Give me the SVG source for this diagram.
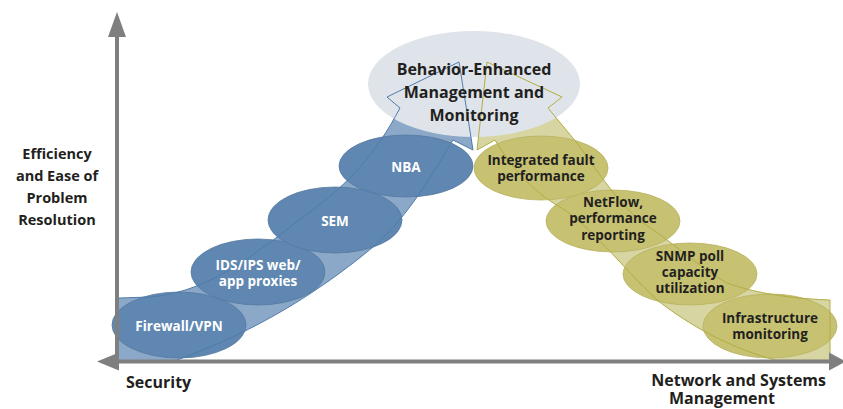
<svg xmlns="http://www.w3.org/2000/svg" width="843" height="409" viewBox="0 0 843 409">
  <style>
    text { font-family: "Open Sans", Lato, "Liberation Sans", sans-serif; font-weight: 700; text-anchor: middle; }
    .dark { fill: #231f20; }
    .light { fill: #ffffff; font-size: 13.5px; }
    .olv { fill: #231f20; font-size: 13.5px; }
    .axislbl { fill: #231f20; font-size: 16px; }
    .ylbl { fill: #231f20; font-size: 14.5px; }
    .blueNode { fill: #5f87b1; stroke: #56799f; stroke-width: 0.8; }
    .oliveNode { fill: #c6c272; stroke: #b7b35f; stroke-width: 0.8; }
    .axis { stroke: #7f7f7f; stroke-width: 4; fill: none; }
    .arrow { fill: #7f7f7f; }
  </style>

  <!-- band fills -->
  <g id="bands">
    <path id="security-band" fill="#8ca8c8"
      d="M119,298 L150,297 C215,292 265,245 310,212 C350,182 375,155 400,108 L387,97 L459,62 L473,150 L453,140 C430,178 405,222 367,252 C320,290 260,330 177,360 L119,360 Z"/>
    <path id="network-band" fill="#d7d5a2"
      d="M548,108 L562,97 L487,62 L477,150 L495,140 C510,165 530,190 560,207 C590,225 620,265 657,300 C680,318 720,345 775,360 L830,360 L830,300 C800,299 760,295 727,283 C700,268 670,240 643,223 C620,205 600,175 577,143 Z"/>
  </g>

  <!-- top node -->
  <g id="node-behavior">
    <ellipse cx="474" cy="84" rx="106" ry="53" fill="#dfe4ea"/>
  </g>

  <!-- security nodes -->
  <g id="node-firewall"><ellipse class="blueNode" cx="179" cy="325" rx="67" ry="33"/></g>
  <g id="node-ids"><ellipse class="blueNode" cx="258" cy="272" rx="67" ry="33"/></g>
  <g id="node-sem"><ellipse class="blueNode" cx="335" cy="220" rx="67" ry="33"/></g>
  <g id="node-nba"><ellipse class="blueNode" cx="406" cy="166" rx="67" ry="31"/></g>

  <!-- network nodes -->
  <g id="node-infra"><ellipse class="oliveNode" cx="770" cy="326" rx="67" ry="32"/></g>
  <g id="node-snmp"><ellipse class="oliveNode" cx="690" cy="274" rx="67" ry="31"/></g>
  <g id="node-netflow"><ellipse class="oliveNode" cx="613" cy="221" rx="67" ry="31"/></g>
  <g id="node-fault"><ellipse class="oliveNode" cx="541" cy="168" rx="67" ry="32"/></g>

  <!-- band outlines -->
  <g id="connectors" fill="none" stroke-width="1" stroke-linejoin="miter">
    <path stroke="#4f7cab"
      d="M119,298 L150,297 C215,292 265,245 310,212 C350,182 375,155 400,108 L387,97 L459,62 L473,150 L453,140 C430,178 405,222 367,252 C320,290 260,330 177,360"/>
    <path stroke="#b2ad45"
      d="M548,108 L562,97 L487,62 L477,150 L495,140 C510,165 530,190 560,207 C590,225 620,265 657,300 C680,318 720,345 775,360 M830,360 L830,300 C800,299 760,295 727,283 C700,268 670,240 643,223 C620,205 600,175 577,143 L548,108"/>
  </g>

  <!-- axes -->
  <g id="axes">
    <line class="axis" x1="117" y1="34" x2="117" y2="363"/>
    <polygon class="arrow" points="117,12 108,37 126,37"/>
    <line class="axis" x1="115" y1="361.5" x2="832" y2="361.5"/>
    <polygon class="arrow" points="97,361.5 119,352.5 119,370.5"/>
    <polygon class="arrow" points="846,361.5 829,352.5 829,370.5"/>
  </g>

  <!-- labels -->
  <g id="labels">
    <text class="dark" x="474" y="75" font-size="16">Behavior-Enhanced</text>
    <text class="dark" x="474" y="98" font-size="16">Management and</text>
    <text class="dark" x="474" y="121" font-size="16">Monitoring</text>

    <text class="light" x="179" y="331">Firewall/VPN</text>
    <text class="light" x="258" y="270">IDS/IPS web/</text>
    <text class="light" x="258" y="286">app proxies</text>
    <text class="light" x="335" y="226">SEM</text>
    <text class="light" x="406" y="172">NBA</text>

    <text class="olv" x="541" y="165">Integrated fault</text>
    <text class="olv" x="541" y="181">performance</text>
    <text class="olv" x="613" y="207">NetFlow,</text>
    <text class="olv" x="613" y="223">performance</text>
    <text class="olv" x="613" y="240">reporting</text>
    <text class="olv" x="690" y="261">SNMP poll</text>
    <text class="olv" x="690" y="277">capacity</text>
    <text class="olv" x="690" y="293">utilization</text>
    <text class="olv" x="770" y="323">Infrastructure</text>
    <text class="olv" x="770" y="339">monitoring</text>

    <text class="ylbl" x="57" y="159">Efficiency</text>
    <text class="ylbl" x="57" y="181">and Ease of</text>
    <text class="ylbl" x="57" y="203">Problem</text>
    <text class="ylbl" x="57" y="225">Resolution</text>

    <text class="axislbl" x="126" y="388" style="text-anchor:start">Security</text>
    <text class="axislbl" x="826" y="386" style="text-anchor:end">Network and Systems</text>
    <text class="axislbl" x="722" y="404">Management</text>
  </g>
</svg>
